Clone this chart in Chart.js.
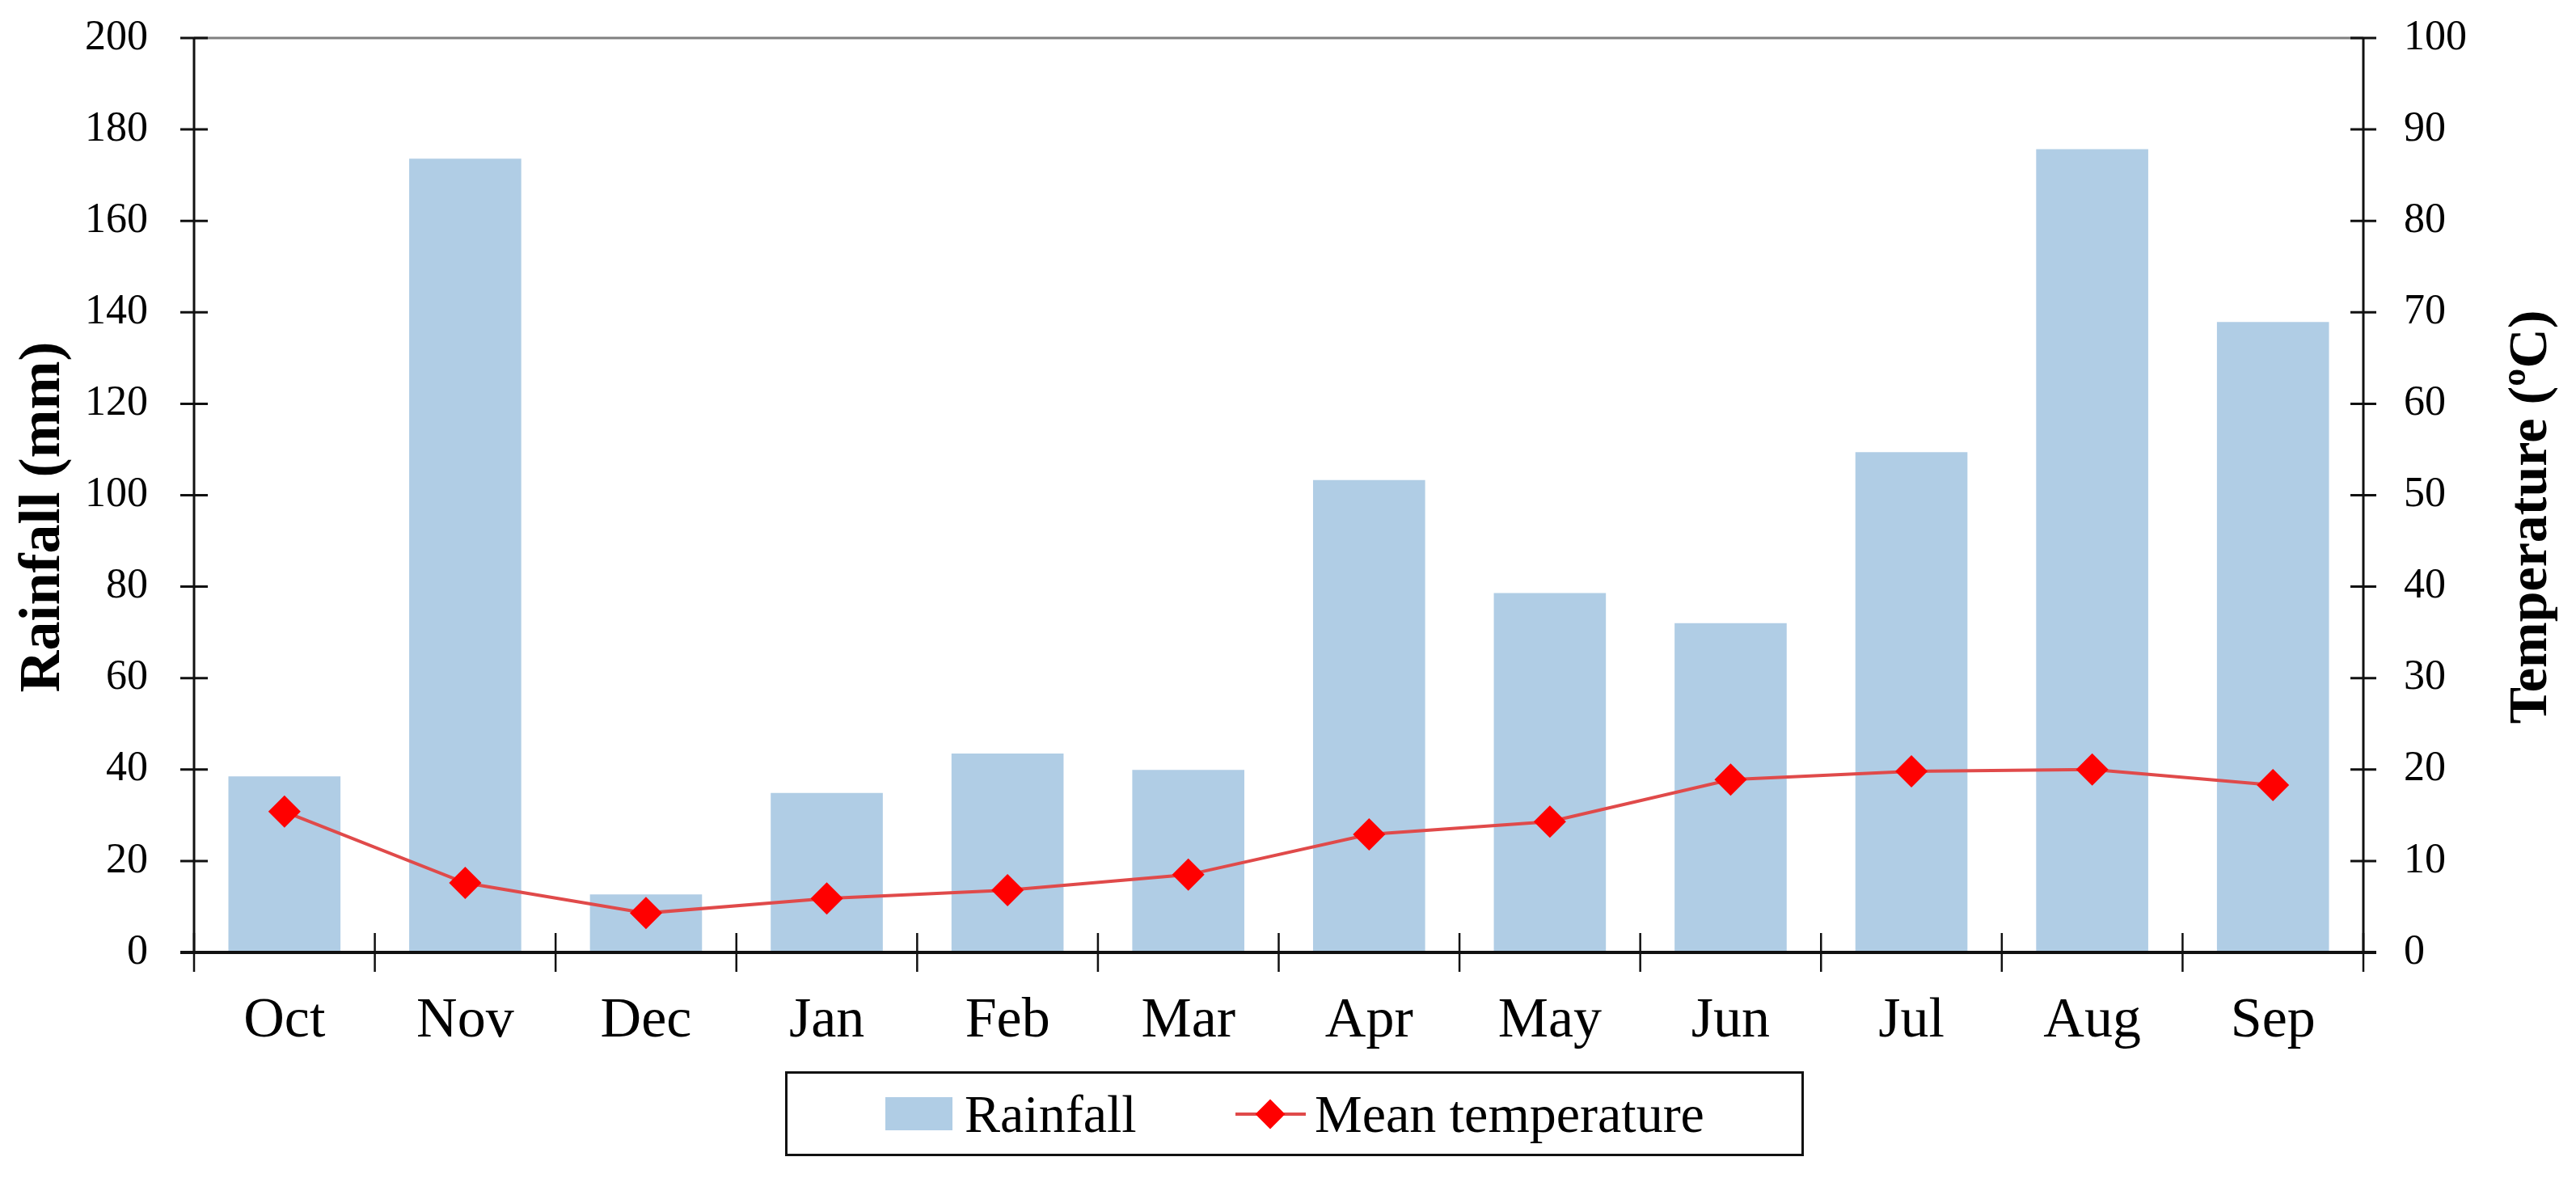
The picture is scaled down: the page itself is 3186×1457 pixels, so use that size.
<!DOCTYPE html>
<html>
<head>
<meta charset="utf-8">
<script src="https://cdn.jsdelivr.net/npm/chart.js@4/dist/chart.umd.min.js"></script>
<style>
  html, body { margin:0; padding:0; background:#fff; }
  #wrap { position:relative; width:3186px; height:1457px; }
  #c { position:absolute; left:0; top:0; }
  #legend { position:absolute; left:971px; top:1325px; width:1260px; height:105px; box-sizing:border-box;
            border:3px solid #111; background:#fff; font-family:"Liberation Serif","Times New Roman",serif; font-size:66px; color:#000; }
  .lg-item { position:absolute; top:0; height:100%; display:flex; align-items:center; }
  .swatch { width:83px; height:41px; margin-right:15px; }
  .lineicon { position:relative; width:87px; height:40px; margin-right:11px; }
  .lineicon .ln { position:absolute; left:0; right:0; top:18px; height:4px; }
  .lineicon .dm { position:absolute; left:30px; top:7px; width:26px; height:26px; transform:rotate(45deg); }
</style>
</head>
<body>
<div id="wrap">
  <canvas id="c" width="3186" height="1457"></canvas>
  <div id="legend"></div>
</div>
<script>
// ---- data ----
const months = ['Oct','Nov','Dec','Jan','Feb','Mar','Apr','May','Jun','Jul','Aug','Sep'];
const rainfall = [38.5, 173.6, 12.7, 34.9, 43.5, 39.9, 103.3, 78.6, 72.0, 109.4, 175.7, 137.9];
const meanTemperature = [15.4, 7.6, 4.3, 5.9, 6.8, 8.5, 12.9, 14.3, 18.9, 19.8, 20.0, 18.3];
const rainTicks = [0, 20, 40, 60, 80, 100, 120, 140, 160, 180, 200];
const tempTicks = [0, 10, 20, 30, 40, 50, 60, 70, 80, 90, 100];
const seriesNames = ['Rainfall', 'Mean temperature'];
const axisTitles = ['Rainfall (mm)', 'Temperature (ºC)'];

const FONT = '"Liberation Serif","Times New Roman",serif';
const BAR_COLOR = '#b0cde5';
const LINE_COLOR = '#e04a4a';
const MARK_COLOR = '#ff0000';

const axesPlugin = {
  id: 'axesPlugin',
  afterDatasetsDraw(chart) {
    const ctx = chart.ctx;
    const a = chart.chartArea;
    const x = chart.scales.x, y = chart.scales.y, y1 = chart.scales.y1;
    ctx.save();
    ctx.strokeStyle = '#808080'; ctx.lineWidth = 3;
    ctx.beginPath(); ctx.moveTo(a.left, a.top); ctx.lineTo(a.right, a.top); ctx.stroke();
    ctx.strokeStyle = '#111'; ctx.lineWidth = 3;
    ctx.beginPath();
    ctx.moveTo(a.left, a.top); ctx.lineTo(a.left, a.bottom);
    ctx.moveTo(a.right, a.top); ctx.lineTo(a.right, a.bottom);
    ctx.stroke();
    ctx.beginPath();
    rainTicks.forEach(v => { const p = y.getPixelForValue(v); ctx.moveTo(a.left - 17, p); ctx.lineTo(a.left + 17, p); });
    tempTicks.forEach(v => { const p = y1.getPixelForValue(v); ctx.moveTo(a.right - 16, p); ctx.lineTo(a.right + 16, p); });
    ctx.stroke();
    ctx.lineWidth = 2.5;
    ctx.beginPath();
    for (let i = 0; i <= months.length; i++) {
      const p = x.getPixelForValue(i - 0.5);
      ctx.moveTo(p, a.bottom - 24); ctx.lineTo(p, a.bottom + 24);
    }
    ctx.stroke();
    ctx.lineWidth = 4;
    ctx.beginPath(); ctx.moveTo(a.left - 17, a.bottom); ctx.lineTo(a.right + 16, a.bottom); ctx.stroke();
    ctx.restore();
  },
  afterDraw(chart) {
    const ctx = chart.ctx;
    const a = chart.chartArea;
    const cy = (a.top + a.bottom) / 2 + 27;
    ctx.save();
    ctx.fillStyle = '#000';
    ctx.font = 'bold 72px ' + FONT;
    ctx.textAlign = 'center';
    ctx.textBaseline = 'middle';
    ctx.translate(54, cy); ctx.rotate(-Math.PI / 2);
    ctx.fillText(axisTitles[0], 0, 0);
    ctx.restore();
    ctx.save();
    ctx.fillStyle = '#000';
    ctx.font = 'bold 68px ' + FONT;
    ctx.textAlign = 'center';
    ctx.textBaseline = 'middle';
    ctx.translate(3131, cy); ctx.rotate(-Math.PI / 2);
    ctx.fillText(axisTitles[1], 0, 0);
    ctx.restore();
  }
};

function fitY(w) {
  return function (s) { s.width = w; s.paddingTop = 0; s.paddingBottom = 0; };
}

new Chart(document.getElementById('c'), {
  data: {
    labels: months,
    datasets: [
      {
        type: 'line', label: seriesNames[1], data: meanTemperature, yAxisID: 'y1',
        borderColor: LINE_COLOR, borderWidth: 4, pointStyle: 'rectRot', pointRadius: 20,
        pointBackgroundColor: MARK_COLOR, pointBorderColor: MARK_COLOR, pointBorderWidth: 0,
        tension: 0, order: 0
      },
      {
        type: 'bar', label: seriesNames[0], data: rainfall, yAxisID: 'y',
        backgroundColor: BAR_COLOR, borderWidth: 0, barPercentage: 0.62, categoryPercentage: 1.0, order: 1
      }
    ]
  },
  options: {
    responsive: false, maintainAspectRatio: false, devicePixelRatio: 1, animation: false,
    layout: { padding: { top: 47, left: 0, right: 0, bottom: 0 } },
    plugins: { legend: { display: false }, title: { display: false }, tooltip: { enabled: false } },
    scales: {
      x: {
        type: 'category', offset: true,
        grid: { display: false, drawTicks: false }, border: { display: false },
        ticks: { color: '#000', font: { family: FONT, size: 70 }, padding: 44, maxRotation: 0, autoSkip: false },
        afterFit(s) { s.height = 279; s.paddingLeft = 0; s.paddingRight = 0; }
      },
      y: {
        position: 'left', min: 0, max: 200,
        afterBuildTicks(s) { s.ticks = rainTicks.map(v => ({ value: v })); },
        grid: { display: false, drawTicks: false }, border: { display: false },
        ticks: { color: '#000', font: { family: FONT, size: 52 }, padding: 57 },
        afterFit: fitY(240)
      },
      y1: {
        position: 'right', min: 0, max: 100,
        afterBuildTicks(s) { s.ticks = tempTicks.map(v => ({ value: v })); },
        grid: { display: false, drawTicks: false }, border: { display: false },
        ticks: { color: '#000', font: { family: FONT, size: 52 }, padding: 50 },
        afterFit: fitY(263)
      }
    }
  },
  plugins: [axesPlugin]
});

const lg = document.getElementById('legend');
lg.innerHTML =
  '<div class="lg-item" style="left:121px"><div class="swatch" style="background:' + BAR_COLOR + '"></div><span>' + seriesNames[0] + '</span></div>' +
  '<div class="lg-item" style="left:554px"><div class="lineicon"><div class="ln" style="background:' + LINE_COLOR + '"></div><div class="dm" style="background:' + MARK_COLOR + '"></div></div><span>' + seriesNames[1] + '</span></div>';
</script>
</body>
</html>
